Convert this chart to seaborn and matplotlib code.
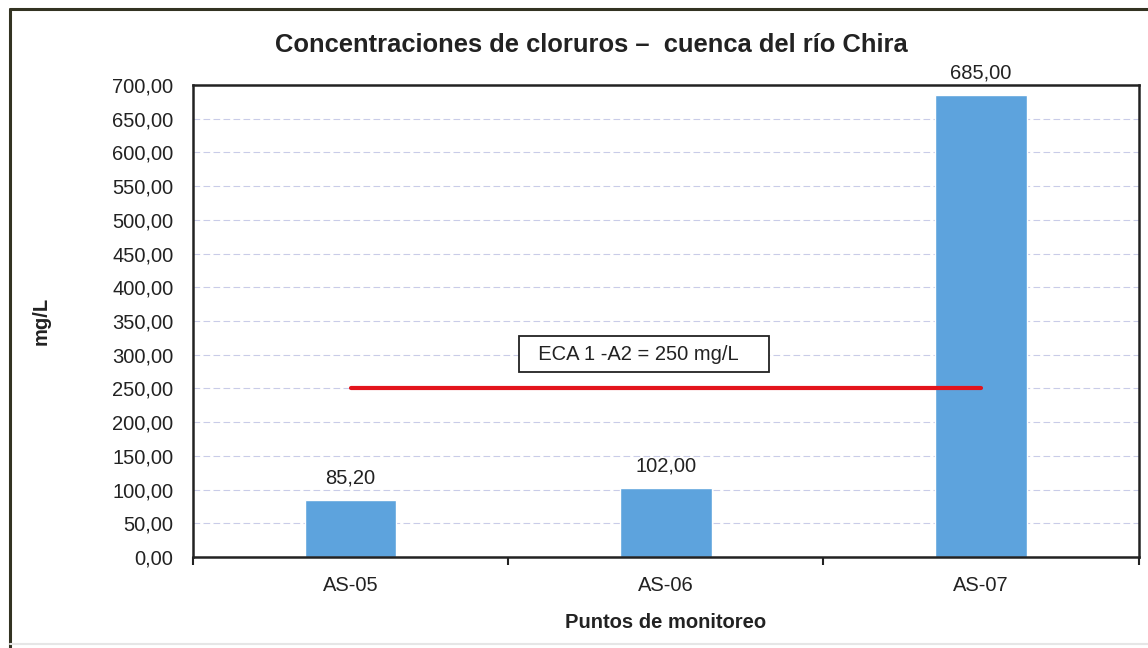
import matplotlib
matplotlib.use("Agg")
import matplotlib.pyplot as plt
import seaborn as sns
import pandas as pd
from matplotlib.lines import Line2D

# chart data
puntos = ["AS-05", "AS-06", "AS-07"]
cloruros = [85.20, 102.00, 685.00]
eca_limite = 250
eca_texto = "ECA 1 -A2 = 250 mg/L"
y_ticks = list(range(0, 701, 50))

df = pd.DataFrame({"punto": puntos, "valor": cloruros})

sns.set_style("white")
plt.rcParams["font.family"] = ["Liberation Sans", "DejaVu Sans"]
txt = "#222222"

fig = plt.figure(figsize=(11.48, 6.48), dpi=100)
ax = fig.add_axes([0.168, 0.1404, 0.824, 0.7284])

sns.barplot(data=df, x="punto", y="valor", color="#5da3dd", width=0.29,
            saturation=1, ax=ax, zorder=2)

# limit line
ax.plot([0, len(puntos) - 1], [eca_limite, eca_limite], color="#e3141c", lw=3, zorder=3)
ax.text(0.93, 301, "  " + eca_texto + "    ", ha="center", va="center", fontsize=14.5, color=txt,
        bbox=dict(boxstyle="square,pad=0.42", fc="white", ec="#222222", lw=1.3), zorder=4)

# value labels
for i, v in enumerate(cloruros):
    ax.annotate(f"{v:.2f}".replace(".", ","), (i, v), xytext=(0, 9),
                textcoords="offset points", ha="center", va="bottom",
                fontsize=14.5, color=txt)

ax.set_ylim(0, 700)
ax.set_xlim(-0.5, len(puntos) - 0.5)
ax.set_yticks(y_ticks)
ax.set_yticklabels([f"{t:.2f}".replace(".", ",") for t in y_ticks])
ax.set_xticks(range(len(puntos)))
ax.set_xticklabels(puntos)
ax.set_xticks([i - 0.5 for i in range(len(puntos) + 1)], minor=True)
ax.tick_params(axis="x", which="major", length=0, pad=14, labelsize=14.5, labelcolor=txt)
ax.tick_params(axis="x", which="minor", length=6, width=1.5, direction="out", color="#222222", bottom=True)
ax.tick_params(axis="y", length=0, pad=14, labelsize=14.5, labelcolor=txt)

ax.yaxis.grid(True, color="#c9cce8", linestyle=(0, (6, 3)), lw=0.8, zorder=0)
ax.set_axisbelow(True)
for s in ax.spines.values():
    s.set_visible(True)
    s.set_color("#222222")
    s.set_linewidth(1.8)

ax.set_xlabel("Puntos de monitoreo", fontsize=14.5, fontweight="bold", color=txt)
ax.set_ylabel("mg/L", fontsize=14.5, fontweight="bold", color=txt)
ax.yaxis.set_label_coords(-0.150, 0.5)
ax.xaxis.set_label_coords(0.5, -0.119)

fig.text(0.515, 0.93, "Concentraciones de cloruros \u2013  cuenca del r\u00edo Chira",
         ha="center", va="center", fontsize=18.4, fontweight="bold", color=txt)

# outer frame
fig.add_artist(Line2D([0.0087, 0.0087], [0.0, 0.986], color="#333322", lw=2.2, transform=fig.transFigure))
fig.add_artist(Line2D([0.0087, 1.0], [0.986, 0.986], color="#333322", lw=2.2, transform=fig.transFigure))
fig.add_artist(Line2D([0.0087, 1.0], [0.006, 0.006], color="#e6e6e6", lw=1.5, transform=fig.transFigure))

fig.savefig("out.png", dpi=100)
